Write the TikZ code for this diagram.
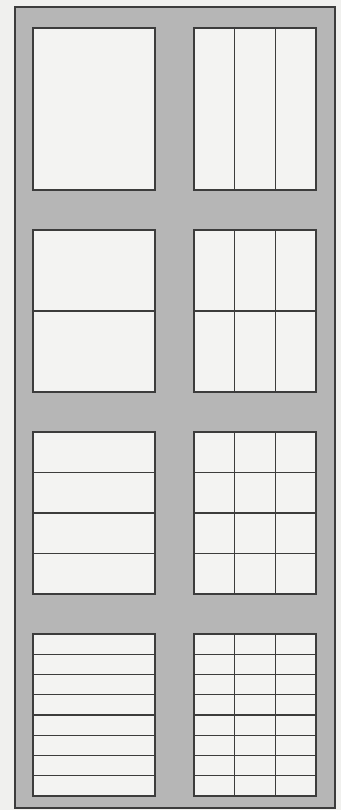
\documentclass[tikz,border=0pt]{standalone}
\usepackage{xcolor}
\usetikzlibrary{positioning, calc}

\definecolor{paper}{RGB}{240,240,238}
\definecolor{bandgray}{RGB}{182,182,182}
\definecolor{sheet}{RGB}{243,243,242}
\definecolor{ink}{RGB}{60,60,60}

\begin{document}
\begin{tikzpicture}[
  x=1pt, y=1pt,
  node distance=40pt and 39pt,
  frame/.style={draw=ink, line width=1.3pt, fill=bandgray,
    minimum width=320pt, minimum height=801pt, inner sep=0pt},
  panel/.style={draw=ink, line width=1.3pt, fill=sheet, minimum width=122pt,
    minimum height=162pt, inner sep=0pt, outer sep=0pt},
  rule/.style={draw=ink, line width=1.1pt}
]
\fill[paper] (0,0) rectangle (341,810);
\useasboundingbox (0,0) rectangle (341,810);
\node[frame] (frame) at (175,402.5) {};

% four rows of two sheets
\node[panel, anchor=north west] (p1) at (33,782) {};
\node[panel, right=of p1] (p2) {};
\node[panel, below=of p1] (p3) {};
\node[panel, right=of p3] (p4) {};
\node[panel, below=of p3] (p5) {};
\node[panel, right=of p5] (p6) {};
\node[panel, below=of p5] (p7) {};
\node[panel, right=of p7] (p8) {};

% columns in the right-hand sheets
\foreach \p in {p2,p4,p6,p8}
  \foreach \i in {1,2}
    \draw[rule] ($(\p.north west)!\i/3!(\p.north east)$)
      -- ($(\p.south west)!\i/3!(\p.south east)$);

% rows
\foreach \p/\n [evaluate=\n as \last using int(\n-1)] in
    {p3/2, p4/2, p5/4, p6/4, p7/8, p8/8}
  \foreach \i in {1,...,\last}
    \draw[rule] ($(\p.north west)!\i/\n!(\p.south west)$)
      -- ($(\p.north east)!\i/\n!(\p.south east)$);
\end{tikzpicture}
\end{document}
